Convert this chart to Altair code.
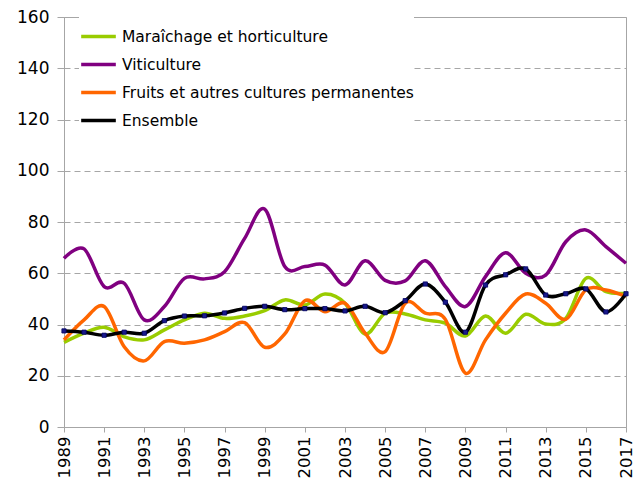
import altair as alt
import pandas as pd

years = list(range(1989, 2018))
maraichage = [33.0, 36.6, 38.9, 35.2, 34.0, 37.9, 41.8, 44.4, 42.4, 43.3, 45.4, 49.6, 47.6, 51.9, 48.3,
              36.3, 44.4, 44.1, 41.8, 40.5, 35.5, 43.3, 36.6, 44.0, 40.2, 42.4, 58.0, 52.8, 52.2]
viticulture = [65.8, 69.5, 54.8, 56.1, 41.8, 47.0, 58.0, 57.8, 60.6, 73.6, 85.0, 62.6, 62.6, 63.2, 55.4,
               64.9, 57.2, 57.0, 64.9, 54.8, 47.0, 58.7, 68.0, 60.0, 59.3, 72.3, 76.9, 70.4, 63.9]
fruits = [34.0, 41.8, 47.0, 31.3, 25.8, 33.3, 32.7, 34.0, 37.2, 40.7, 31.1, 36.3, 49.3, 45.0, 48.3,
          36.6, 29.4, 48.3, 44.4, 42.0, 21.0, 34.0, 44.4, 51.9, 48.3, 42.0, 53.5, 53.5, 50.9]
ensemble = [37.5, 37.0, 35.8, 37.0, 36.6, 41.5, 43.3, 43.4, 44.5, 46.3, 47.1, 45.8, 46.2, 46.2, 45.3,
            47.1, 44.6, 49.3, 55.8, 48.7, 37.0, 55.4, 59.4, 61.7, 51.5, 52.0, 53.9, 44.9, 52.0]

series_names = ["Maraîchage et horticulture", "Viticulture",
                "Fruits et autres cultures permanentes", "Ensemble"]
series_values = [maraichage, viticulture, fruits, ensemble]
series_colors = ["#99CC00", "#800080", "#FF6600", "#000000"]

rows = []
for name, vals in zip(series_names, series_values):
    for y, v in zip(years, vals):
        rows.append({"annee": y, "valeur": v, "serie": name})
df = pd.DataFrame(rows)

FONT = "DejaVu Sans"

x_enc = alt.X("annee:Q",
              scale=alt.Scale(domain=[1989, 2017], nice=False, zero=False),
              axis=alt.Axis(values=years, format="d", labelAngle=-90,
                            labelExpr="datum.value % 2 == 1 ? datum.label : ''",
                            grid=False, title=None, labelFontSize=16.5,
                            labelFont=FONT, labelColor="#000000",
                            domainColor="#A6A6A6", tickColor="#A6A6A6",
                            tickSize=5, labelPadding=4, labelAlign="right",
                            labelBaseline="middle", labelBound=False))
y_enc = alt.Y("valeur:Q",
              scale=alt.Scale(domain=[0, 160], nice=False),
              axis=alt.Axis(values=list(range(0, 161, 20)), title=None,
                            labelFontSize=17, labelFont=FONT, labelColor="#000000",
                            grid=True, gridDash=[6, 4], gridColor="#A6A6A6",
                            domainColor="#A6A6A6", tickColor="#A6A6A6",
                            tickSize=7, labelPadding=8))
color_enc = alt.Color("serie:N",
                      scale=alt.Scale(domain=series_names, range=series_colors),
                      sort=series_names,
                      legend=alt.Legend(title=None, orient="none", legendX=15, legendY=0,
                                        symbolType="stroke", symbolStrokeWidth=3.5,
                                        symbolSize=1200, labelFontSize=15.5,
                                        labelFont=FONT, labelColor="#000000",
                                        rowPadding=0, labelOffset=4,
                                        fillColor="#FFFFFF", labelLimit=400))

lines = alt.Chart(df).mark_line(interpolate="cardinal", strokeWidth=3.5).encode(
    x=x_enc, y=y_enc, color=color_enc,
    order=alt.Order("annee:Q"),
)

points = alt.Chart(df).transform_filter(
    alt.datum.serie == "Ensemble"
).mark_point(shape="square", filled=True, size=18, color="#1A1A8C", opacity=1,
             stroke="#000060", strokeWidth=0.8).encode(
    x=alt.X("annee:Q"), y=alt.Y("valeur:Q")
)

chart = alt.layer(lines, points).properties(
    width=562, height=410,
    autosize=alt.AutoSizeParams(type="none"),
    padding={"left": 56, "top": 9, "right": 9, "bottom": 55},
).configure_view(stroke="#A6A6A6", strokeWidth=1)

chart.save("out.html", embed_options={"renderer": "svg", "actions": False})
